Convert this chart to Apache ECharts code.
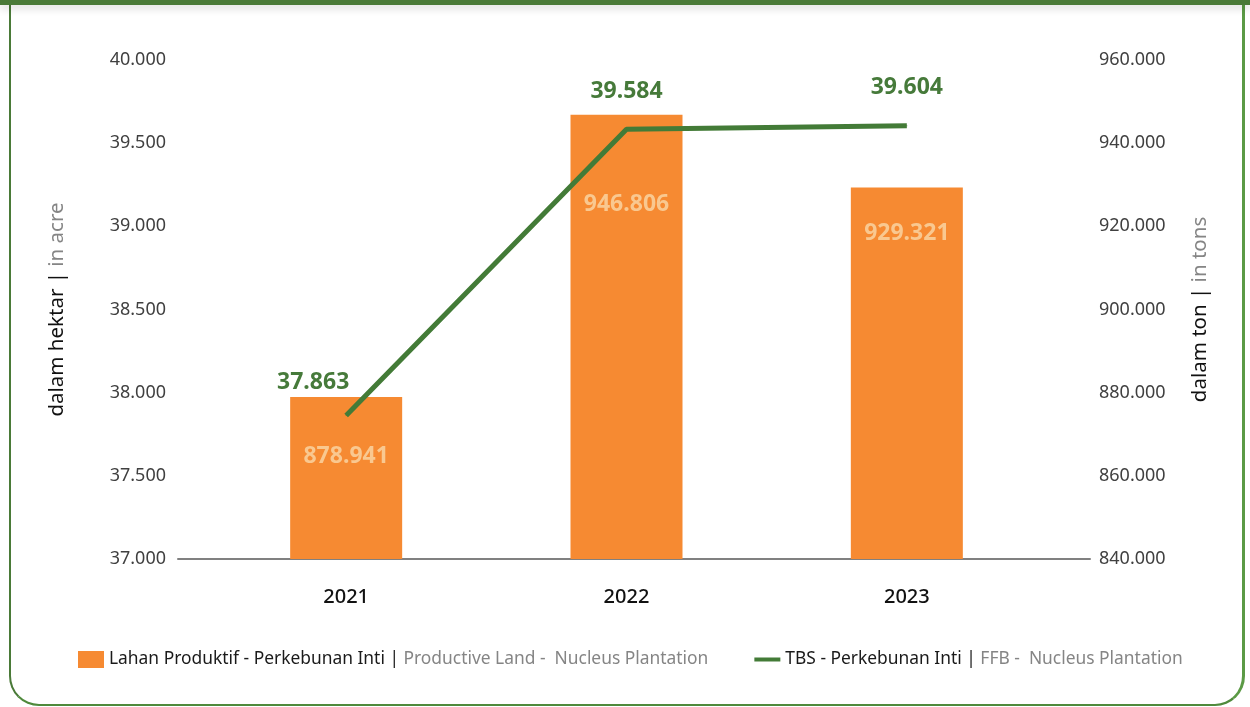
<!DOCTYPE html>
<html>
<head>
<meta charset="utf-8">
<script src="https://cdn.jsdelivr.net/npm/echarts@6/dist/echarts.min.js"></script>
<style>
  html, body { margin: 0; padding: 0; background: #fff; }
  .topbar {
    position: absolute; left: 0; top: 0; width: 1250px; height: 5px;
    background: #4a7a38; box-shadow: 0 3px 8px rgba(0, 0, 0, 0.18); z-index: 2;
  }
  .frame {
    position: absolute; left: 9px; top: 0; width: 1231px; height: 704px;
    border-left: 2px solid #4a7a38; border-right: 3px solid #5b9a45;
    border-bottom: 2px solid #4f8a3c; border-radius: 0 0 30px 30px;
  }
  #chart_tbs { position: absolute; left: 0; top: 0; width: 1250px; height: 707px; }
</style>
</head>
<body>
<div class="frame"></div>
<div class="topbar"></div>
<div id="chart_tbs"></div>
<script>
// data
var years = ["2021", "2022", "2023"];
var lahanValues = [878941, 946806, 929321];   // bar, read on right axis
var tbsValues = [37863, 39584, 39604];        // line, read on left axis
var leftTicks = { min: 37000, max: 40000, step: 500 };
var rightTicks = { min: 840000, max: 960000, step: 20000 };

var barName = "Lahan Produktif - Perkebunan Inti";
var lineName = "TBS - Perkebunan Inti";

function fmt(v) {
  return String(v).replace(/\B(?=(\d{3})+(?!\d))/g, ".");
}

var font = "Noto Sans";
var barLabelDist = [48, 78, 34];

var myChart = echarts.init(document.getElementById("chart_tbs"));
var option = {
  animation: false,
  textStyle: { fontFamily: font },
  grid: [
    { left: 178, right: 160, top: 60, bottom: 148 },
    { left: 206, right: 203, top: 60, bottom: 148 },
  ],
  legend: {
    left: 73,
    top: 646,
    itemWidth: 26,
    itemHeight: 17,
    itemGap: 44,
    lineStyle: { width: 4 },
    textStyle: {
      fontSize: 17.4,
      fontFamily: font,
      rich: {
        a: { color: "#1a1a1a", fontSize: 17.4, fontFamily: font },
        b: { color: "#858585", fontSize: 17.4, fontFamily: font },
      },
    },
    data: [
      { name: barName, icon: "rect" },
      { name: lineName, itemStyle: { color: "rgba(0,0,0,0)", borderWidth: 0 } },
    ],
    formatter: function (name) {
      if (name === barName) {
        return "{a|Lahan Produktif - Perkebunan Inti |} {b|Productive Land -  Nucleus Plantation}";
      }
      return "{a|TBS - Perkebunan Inti |} {b|FFB -  Nucleus Plantation}";
    },
  },
  xAxis: [
    {
      type: "category",
      gridIndex: 0,
      data: years,
      axisLine: { lineStyle: { color: "#808080", width: 2 } },
      axisTick: { show: false },
      axisLabel: { show: false },
    },
    {
      type: "category",
      gridIndex: 1,
      data: years,
      axisLine: { show: false },
      axisTick: { show: false },
      axisLabel: { color: "#111", fontSize: 20, fontWeight: 500, margin: 28, fontFamily: font },
    },
  ],
  yAxis: [
    { type: "value", gridIndex: 0, show: false, min: 0, max: 1 },
    {
      type: "value",
      gridIndex: 1,
      position: "left",
      offset: 28,
      min: leftTicks.min,
      max: leftTicks.max,
      interval: leftTicks.step,
      splitLine: { show: false },
      axisLine: { show: false },
      axisTick: { show: false },
      axisLabel: { color: "#404040", fontSize: 18, margin: 12, formatter: fmt, fontFamily: font },
      name: "{a|dalam hektar | }{b|in acre}",
      nameLocation: "middle",
      nameRotate: 90,
      nameGap: 110,
      nameTextStyle: {
        rich: {
          a: { color: "#111", fontSize: 20.5, fontFamily: font },
          b: { color: "#858585", fontSize: 20.5, fontFamily: font },
        },
      },
    },
    {
      type: "value",
      gridIndex: 1,
      position: "right",
      offset: 43,
      min: rightTicks.min,
      max: rightTicks.max,
      interval: rightTicks.step,
      splitLine: { show: false },
      axisLine: { show: false },
      axisTick: { show: false },
      axisLabel: { color: "#404040", fontSize: 18, margin: 9, formatter: fmt, fontFamily: font },
      name: "{a|dalam ton | }{b|in tons}",
      nameLocation: "middle",
      nameRotate: 90,
      nameGap: 100,
      nameTextStyle: {
        rich: {
          a: { color: "#111", fontSize: 20.5, fontFamily: font },
          b: { color: "#858585", fontSize: 20.5, fontFamily: font },
        },
      },
    },
  ],
  series: [
    {
      name: barName,
      type: "bar",
      xAxisIndex: 1,
      yAxisIndex: 2,
      barWidth: 112,
      itemStyle: { color: "#f68a32" },
      label: {
        show: true,
        position: "insideTop",
        color: "#f9c890",
        fontSize: 23,
        fontWeight: "bold",
        fontFamily: font,
        formatter: function (p) { return fmt(p.value); },
      },
      data: lahanValues.map(function (v, i) {
        return { value: v, label: { distance: barLabelDist[i] } };
      }),
    },
    {
      name: lineName,
      type: "line",
      xAxisIndex: 1,
      yAxisIndex: 1,
      symbol: "circle",
      symbolSize: 1,
      lineStyle: { color: "#437b37", width: 5 },
      itemStyle: { color: "#437b37" },
      label: {
        show: true,
        position: "top",
        distance: 26,
        color: "#467a3a",
        fontSize: 23,
        fontWeight: "bold",
        fontFamily: font,
        formatter: function (p) { return fmt(p.value); },
      },
      data: tbsValues.map(function (v, i) {
        return i === 0 ? { value: v, label: { offset: [-33, 5] } } : v;
      }),
    },
  ],
};
myChart.setOption(option);
window.addEventListener("resize", function () {
  myChart.resize();
});
</script>
</body>
</html>
